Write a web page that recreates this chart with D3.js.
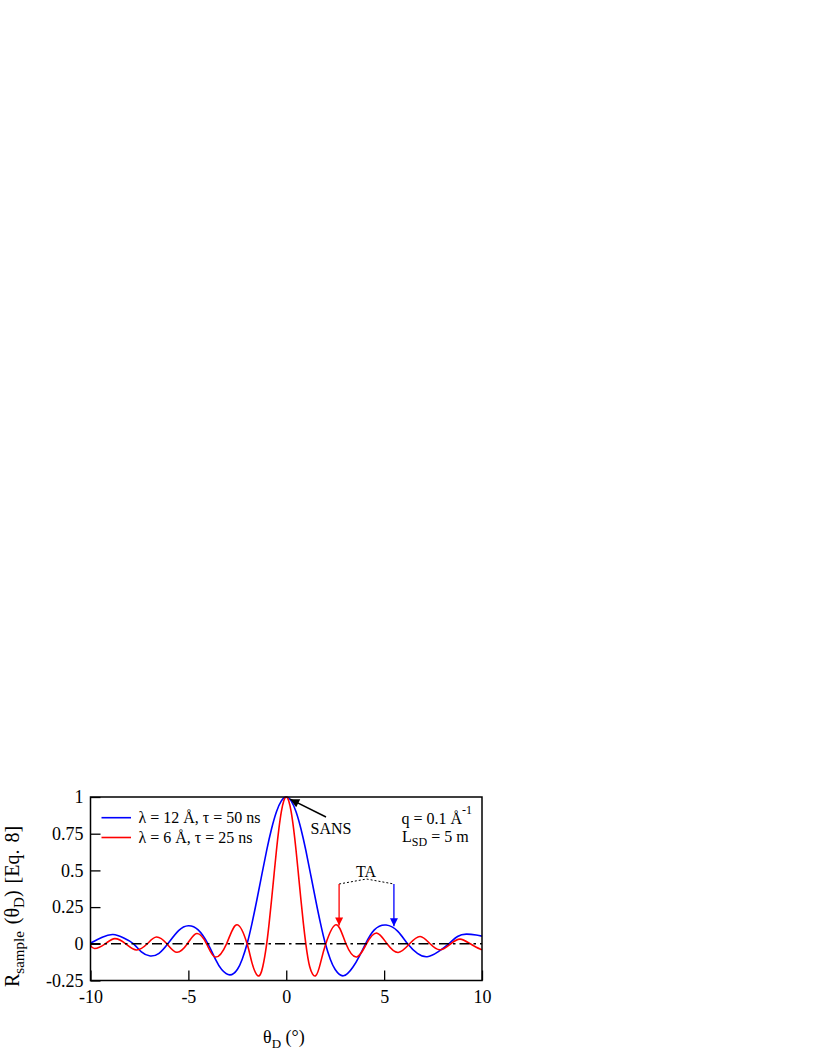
<!DOCTYPE html>
<html>
<head>
<meta charset="utf-8">
<script src="https://cdn.jsdelivr.net/npm/d3@7"></script>
<style>
  html, body { margin: 0; padding: 0; background: #fff; }
  svg { display: block; }
  text { font-family: "Liberation Serif", "Times New Roman", serif; fill: #000; }
</style>
</head>
<body>
<svg id="chart" width="814" height="1053"></svg>
<script>
// ---- data ----
const blueTheta = [-10, -9.4, -8.85, -8.3, -7.8, -7.4, -6.95, -6.5, -6.05, -5.5, -5.0, -4.5, -4.0, -3.6, -3.3, -2.88, -2.5, -2.25, -2.0, -1.75, -1.5, -1.25, -1.0, -0.75, -0.5, -0.25, 0,
                   0.25, 0.5, 0.75, 1.0, 1.25, 1.5, 1.75, 2.0, 2.25, 2.5, 2.92, 3.4, 3.75, 4.05, 4.5, 5.1, 5.7, 6.2, 6.7, 7.2, 7.75, 8.3, 8.75, 9.2, 9.7, 10];
const blueR =     [0.005, 0.045, 0.063, 0.04, 0.0, -0.055, -0.083, -0.065, 0.0, 0.09, 0.123, 0.095, 0.0, -0.11, -0.175, -0.212, -0.175, -0.105, 0.0, 0.139, 0.30, 0.47, 0.637, 0.784, 0.90, 0.974, 1.0,
                   0.974, 0.90, 0.784, 0.637, 0.47, 0.30, 0.139, 0.0, -0.105, -0.175, -0.218, -0.16, -0.08, 0.0, 0.095, 0.128, 0.085, 0.0, -0.065, -0.088, -0.055, 0.0, 0.05, 0.066, 0.06, 0.052];

const redTheta = [-10, -9.78, -9.25, -8.76, -8.2, -7.65, -7.1, -6.63, -6.1, -5.59, -5.05, -4.57, -4.07, -3.63, -3.05, -2.52, -2.0, -1.75, -1.45, -1.2, -1.0, -0.875, -0.75, -0.625, -0.5, -0.375, -0.25, -0.125, 0,
                  0.125, 0.25, 0.375, 0.5, 0.625, 0.75, 0.875, 1.0, 1.2, 1.5, 1.75, 2.02, 2.55, 3.05, 3.6, 4.1, 4.62, 5.15, 5.72, 6.3, 6.84, 7.35, 7.86, 8.4, 8.88, 9.4, 9.9, 10];
const redR =     [-0.01, -0.032, 0.0, 0.035, 0.0, -0.042, 0.0, 0.046, 0.0, -0.058, 0.0, 0.07, 0.0, -0.09, 0.0, 0.13, 0.0, -0.13, -0.218, -0.156, 0.0, 0.139, 0.30, 0.47, 0.637, 0.784, 0.90, 0.974, 1.0,
                  0.974, 0.90, 0.784, 0.637, 0.47, 0.30, 0.139, 0.0, -0.156, -0.218, -0.13, 0.0, 0.13, 0.0, -0.09, 0.0, 0.073, 0.0, -0.059, 0.0, 0.05, 0.0, -0.041, 0.0, 0.032, 0.0, -0.036, -0.035];

const xTicks = [-10, -5, 0, 5, 10];
const xTickLabels = ["-10", "-5", "0", "5", "10"];
const yTicks = [-0.25, 0, 0.25, 0.5, 0.75, 1];
const yTickLabels = ["-0.25", "0", "0.25", "0.5", "0.75", "1"];

const seriesNames = ["λ = 12 Å, τ = 50 ns", "λ = 6 Å, τ = 25 ns"];
const seriesColors = ["#0000ff", "#ff0000"];

// annotation anchor points (data coords)
const sansTip = [0.2, 0.985];
const taRed = [2.7, 0.125];
const taBlue = [5.5, 0.12];

// ---- layout ----
const svg = d3.select("#chart");
const L = 90.5, R = 482, T = 797, B = 980.5;
const x = d3.scaleLinear().domain([-10, 10]).range([L, R]);
const y = d3.scaleLinear().domain([-0.25, 1]).range([B, T]);

const defs = svg.append("defs");
function marker(id, color, w, h) {
  defs.append("marker").attr("id", id)
    .attr("viewBox", "0 0 10 10").attr("refX", 10).attr("refY", 5)
    .attr("markerWidth", w).attr("markerHeight", h).attr("markerUnits", "userSpaceOnUse")
    .attr("orient", "auto")
    .append("path").attr("d", "M0,0 L10,5 L0,10 z").attr("fill", color);
}
marker("arrBlack", "#000", 12, 9);
marker("arrRed", "#ff0000", 10, 8);
marker("arrBlue", "#0000ff", 10, 8);

const clip = defs.append("clipPath").attr("id", "plotClip");
clip.append("rect").attr("x", L).attr("y", T - 2).attr("width", R - L).attr("height", B - T + 2);

// curves
const line = d3.line().x(d => x(d[0])).y(d => y(d[1])).curve(d3.curveNatural);
const blueData = blueTheta.map((t, i) => [t, blueR[i]]);
const redData = redTheta.map((t, i) => [t, redR[i]]);

const g = svg.append("g").attr("clip-path", "url(#plotClip)");
g.append("path").datum(blueData).attr("d", line)
  .attr("fill", "none").attr("stroke", seriesColors[0]).attr("stroke-width", 1.6);
g.append("path").datum(redData).attr("d", line)
  .attr("fill", "none").attr("stroke", seriesColors[1]).attr("stroke-width", 1.6);

// zero dash-dot line
svg.append("line").attr("x1", x(-10)).attr("x2", x(10)).attr("y1", y(0)).attr("y2", y(0))
  .attr("stroke", "#000").attr("stroke-width", 1.4).attr("stroke-dasharray", "10,4,2.5,4");

// axes (inward ticks)
const xAxis = d3.axisBottom(x).tickValues(xTicks).tickSize(-10).tickPadding(9.5)
  .tickFormat((d, i) => xTickLabels[i]);
const yAxis = d3.axisLeft(y).tickValues(yTicks).tickSize(-10).tickPadding(7)
  .tickFormat((d, i) => yTickLabels[i]);

const gx = svg.append("g").attr("transform", `translate(0,${B})`).call(xAxis);
const gy = svg.append("g").attr("transform", `translate(${L},0)`).call(yAxis);
[gx, gy].forEach(a => {
  a.attr("font-family", null).attr("font-size", null);
  a.select(".domain").remove();
  a.selectAll(".tick line").attr("stroke", "#000").attr("stroke-width", 1.3);
  a.selectAll(".tick text").style("font-family", '"Liberation Serif", serif').style("font-size", "18px").attr("fill", "#000");
});

// frame
svg.append("rect").attr("x", L).attr("y", T).attr("width", R - L).attr("height", B - T)
  .attr("fill", "none").attr("stroke", "#000").attr("stroke-width", 1.5);

// legend
const legY = [817.7, 837.5];
seriesNames.forEach((name, i) => {
  svg.append("line").attr("x1", 101.5).attr("x2", 131).attr("y1", legY[i]).attr("y2", legY[i])
    .attr("stroke", seriesColors[i]).attr("stroke-width", 1.6);
  svg.append("text").attr("x", 138.5).attr("y", legY[i] + 5.5).style("font-size", "16px").text(name);
});

// q / L annotation
const qt = svg.append("text").attr("x", 401.5).attr("y", 823.5).style("font-size", "16px");
qt.append("tspan").text("q = 0.1 Å");
qt.append("tspan").attr("dy", -10).style("font-size", "12px").text("-1");
const lt = svg.append("text").attr("x", 402).attr("y", 841.5).style("font-size", "16px");
lt.append("tspan").text("L");
lt.append("tspan").attr("dy", 4).style("font-size", "12px").text("SD");
lt.append("tspan").attr("dy", -4).text(" = 5 m");

// SANS arrow
svg.append("text").attr("x", 310.5).attr("y", 833.5).style("font-size", "16px").text("SANS");
svg.append("line").attr("x1", 326).attr("y1", 817).attr("x2", x(sansTip[0])).attr("y2", y(sansTip[1]))
  .attr("stroke", "#000").attr("stroke-width", 1.5).attr("marker-end", "url(#arrBlack)");

// TA bracket
svg.append("text").attr("x", 366).attr("y", 876.5).attr("text-anchor", "middle").style("font-size", "16px").text("TA");
const brY = 884, brTop = 879;
svg.append("path")
  .attr("d", `M${x(taRed[0])},${brY} L${(x(taRed[0]) + x(taBlue[0])) / 2},${brTop} L${x(taBlue[0])},${brY}`)
  .attr("fill", "none").attr("stroke", "#000").attr("stroke-width", 1).attr("stroke-dasharray", "2,2");
svg.append("line").attr("x1", x(taRed[0])).attr("x2", x(taRed[0])).attr("y1", brY).attr("y2", y(taRed[1]))
  .attr("stroke", "#ff0000").attr("stroke-width", 1.3).attr("marker-end", "url(#arrRed)");
svg.append("line").attr("x1", x(taBlue[0])).attr("x2", x(taBlue[0])).attr("y1", brY).attr("y2", y(taBlue[1]))
  .attr("stroke", "#0000ff").attr("stroke-width", 1.3).attr("marker-end", "url(#arrBlue)");

// axis titles
const xt = svg.append("text").attr("x", 263).attr("y", 1043).style("font-size", "18px");
xt.append("tspan").text("θ");
xt.append("tspan").attr("dy", 5).style("font-size", "13px").text("D");
xt.append("tspan").attr("dy", -5).text(" (°)");

const yt = svg.append("text").attr("transform", "translate(19,987) rotate(-90)")
  .attr("text-anchor", "start").style("font-size", "20px").style("word-spacing", "2px");
yt.append("tspan").text("R");
yt.append("tspan").attr("dy", 5).style("font-size", "15px").text("sample");
yt.append("tspan").attr("dy", -5).text(" (θ");
yt.append("tspan").attr("dy", 5).style("font-size", "15px").text("D");
yt.append("tspan").attr("dy", -5).text(") [Eq. 8]");
</script>
</body>
</html>
